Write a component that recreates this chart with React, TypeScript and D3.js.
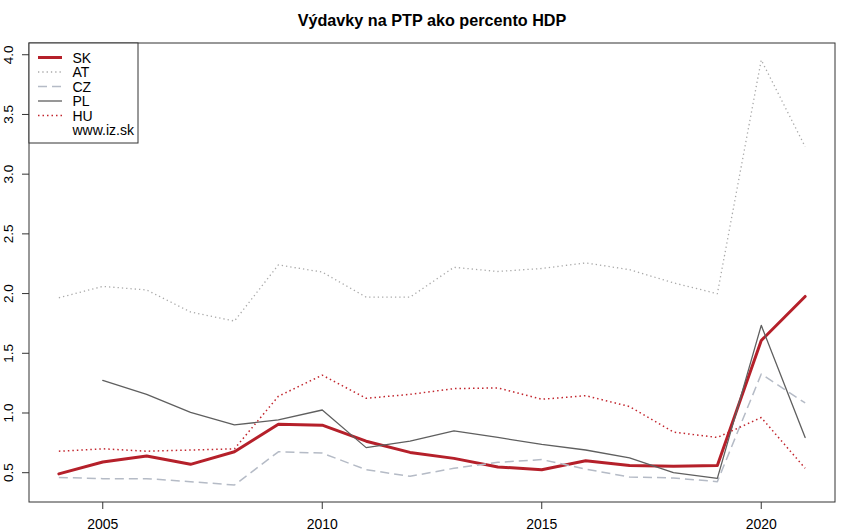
import React from "react";
import * as d3 from "d3";

const years = [2004, 2005, 2006, 2007, 2008, 2009, 2010, 2011, 2012, 2013, 2014, 2015, 2016, 2017, 2018, 2019, 2020, 2021];
const SK = [0.49, 0.59, 0.64, 0.57, 0.675, 0.906, 0.898, 0.764, 0.67, 0.62, 0.548, 0.525, 0.6, 0.56, 0.553, 0.56, 1.607, 1.976];
const AT = [1.965, 2.06, 2.03, 1.846, 1.77, 2.24, 2.18, 1.97, 1.97, 2.22, 2.185, 2.21, 2.257, 2.2, 2.09, 1.999, 3.956, 3.23];
const CZ = [0.46, 0.45, 0.45, 0.425, 0.397, 0.675, 0.664, 0.525, 0.47, 0.537, 0.587, 0.61, 0.53, 0.464, 0.456, 0.425, 1.326, 1.084];
const PL = [null, 1.273, 1.156, 1.006, 0.9, 0.942, 1.025, 0.71, 0.764, 0.85, 0.795, 0.737, 0.69, 0.625, 0.5, 0.453, 1.734, 0.795];
const HU = [0.68, 0.7, 0.68, 0.69, 0.7, 1.14, 1.317, 1.123, 1.156, 1.204, 1.21, 1.115, 1.145, 1.054, 0.84, 0.795, 0.962, 0.537];
const xTicks = [2005, 2010, 2015, 2020];
const yTicks = [0.5, 1.0, 1.5, 2.0, 2.5, 3.0, 3.5, 4.0];
const legendLabels = ["SK", "AT", "CZ", "PL", "HU"];
const title = "Výdavky na PTP ako percento HDP";
const credit = "www.iz.sk";

const W = 850, H = 532;
const L = 29, R = 835, T = 43, B = 502;
const FONT = "'Liberation Sans', Arial, Helvetica, sans-serif";

const series = [
  { name: "SK", values: SK, color: "#b5202a", width: 3, dash: "" },
  { name: "AT", values: AT, color: "#a9a9a9", width: 1.3, dash: "1.3,3" },
  { name: "CZ", values: CZ, color: "#b5bbc6", width: 1.5, dash: "9,5" },
  { name: "PL", values: PL, color: "#5f5f5f", width: 1.3, dash: "" },
  { name: "HU", values: HU, color: "#c2262e", width: 1.5, dash: "1.5,3" },
];

function pad(ext: [number, number]): [number, number] {
  const d = (ext[1] - ext[0]) * 0.04;
  return [ext[0] - d, ext[1] + d];
}

export default function App() {
  const xExt = d3.extent(years) as [number, number];
  const all = [...SK, ...AT, ...CZ, ...PL, ...HU].filter((v) => v != null) as number[];
  const yExt = d3.extent(all) as [number, number];
  const x = d3.scaleLinear().domain(pad(xExt)).range([L, R]);
  const y = d3.scaleLinear().domain(pad(yExt)).range([B, T]);

  const mkLine = (vals: (number | null)[]) =>
    d3
      .line<number>()
      .defined((_, i) => vals[i] != null)
      .x((_, i) => x(years[i]))
      .y((_, i) => y(vals[i] as number))(vals as number[]);

  const legendY = [57.5, 72, 86.5, 101, 115.5];

  return (
    <svg width={W} height={H} style={{ position: "absolute", left: 0, top: 0, background: "#fff" }} fontFamily={FONT}>
      <rect x={0} y={0} width={W} height={H} fill="#fff" />
      <text x={(L + R) / 2} y={26} textAnchor="middle" fontSize={16.2} fontWeight="bold" fill="#000">
        {title}
      </text>
      {series.map((s) => (
        <path
          key={s.name}
          d={mkLine(s.values) || ""}
          fill="none"
          stroke={s.color}
          strokeWidth={s.width}
          strokeDasharray={s.dash || undefined}
          strokeLinejoin="round"
          strokeLinecap={s.dash ? "butt" : "round"}
        />
      ))}
      <rect x={L} y={T} width={R - L} height={B - T} fill="none" stroke="#333" strokeWidth={1} />
      {xTicks.map((t) => (
        <g key={t}>
          <line x1={x(t)} x2={x(t)} y1={B} y2={B + 7} stroke="#333" />
          <text x={x(t)} y={528.5} textAnchor="middle" fontSize={14} fill="#000">
            {t}
          </text>
        </g>
      ))}
      {yTicks.map((t) => (
        <g key={t}>
          <line x1={L - 7} x2={L} y1={y(t)} y2={y(t)} stroke="#333" />
          <text
            transform={`translate(12.5,${y(t)}) rotate(-90)`}
            textAnchor="middle"
            fontSize={13.5}
            fill="#000"
          >
            {t.toFixed(1)}
          </text>
        </g>
      ))}
      <rect x={L} y={T} width={109} height={100} fill="#fff" stroke="#333" strokeWidth={1} />
      {series.map((s, i) => (
        <g key={"lg" + s.name}>
          <line
            x1={38}
            x2={62}
            y1={legendY[i]}
            y2={legendY[i]}
            stroke={s.color}
            strokeWidth={s.width}
            strokeDasharray={s.dash || undefined}
          />
          <text x={72.5} y={legendY[i] + 5} fontSize={14} fill="#000">
            {legendLabels[i]}
          </text>
        </g>
      ))}
      <text x={72.5} y={130 + 5} fontSize={14} fill="#000">
        {credit}
      </text>
    </svg>
  );
}
